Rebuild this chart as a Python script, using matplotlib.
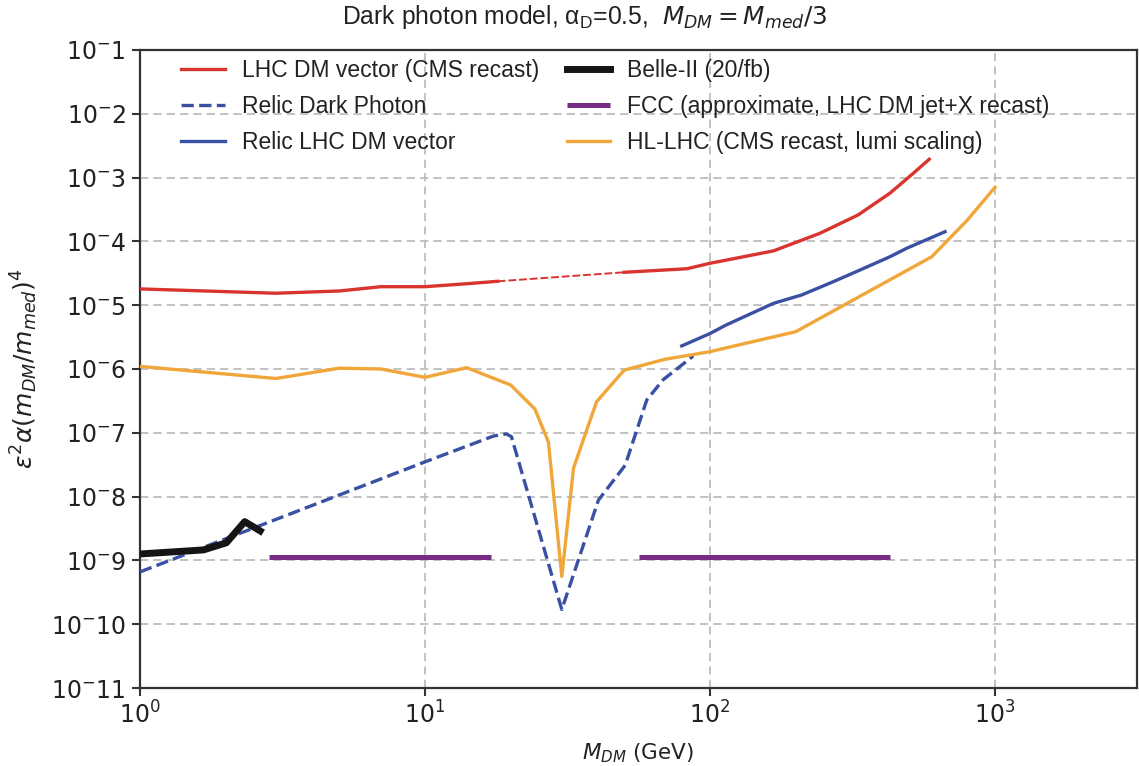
import matplotlib
matplotlib.use("Agg")
import matplotlib.pyplot as plt
from matplotlib.ticker import FixedLocator, FixedFormatter, NullLocator

# ---------------- data ----------------
red_low_x = [1, 3, 5, 7, 10, 14, 18]
red_low_y = [1.8e-5, 1.54e-5, 1.67e-5, 1.95e-5, 1.95e-5, 2.17e-5, 2.37e-5]
red_mid_x = [18, 50]
red_mid_y = [2.37e-5, 3.28e-5]
red_high_x = [50, 83, 100, 167, 243, 331, 428, 517, 588]
red_high_y = [3.28e-5, 3.73e-5, 4.54e-5, 7.1e-5, 1.34e-4, 2.6e-4, 5.7e-4, 1.17e-3, 1.94e-3]

relic_dp_x = [1, 10, 17.4, 19.3, 20.1, 30.2, 40.6, 50.4, 60, 68.5, 87.4]
relic_dp_y = [6.6e-10, 3.5e-8, 8.9e-8, 9.6e-8, 8.7e-8, 1.7e-10, 8.8e-9, 3.1e-8, 3.27e-7, 6.8e-7, 1.6e-6]

relic_lhc_x = [79.6, 100, 114, 167, 210, 271, 336, 428, 490, 668]
relic_lhc_y = [2.3e-6, 3.6e-6, 4.9e-6, 1.07e-5, 1.45e-5, 2.34e-5, 3.56e-5, 5.75e-5, 7.8e-5, 1.42e-4]

belle_x = [1, 1.67, 2.01, 2.33, 2.64]
belle_y = [1.26e-9, 1.46e-9, 1.89e-9, 4.05e-9, 2.9e-9]

fcc1_x = [2.84, 17.1]
fcc2_x = [56.5, 428]
fcc_y = 1.15e-9

hl_x = [1, 3, 5, 7, 10, 14, 20, 24.3, 27.1, 30.2, 33.2, 40, 50, 69.5, 100, 200, 600, 800, 1000]
hl_y = [1.1e-6, 7.1e-7, 1.03e-6, 1.0e-6, 7.4e-7, 1.05e-6, 5.6e-7, 2.36e-7, 7.2e-8, 5.6e-10,
        2.8e-8, 3.07e-7, 9.6e-7, 1.42e-6, 1.87e-6, 3.85e-6, 5.75e-5, 2.16e-4, 7.05e-4]

ytick_vals = [10.0**(-k) for k in range(1, 12)]
ytick_labels = [r"10$^{-}$%d" % k for k in range(1, 12)]
xtick_vals = [1, 10, 100, 1000]
xtick_labels = [r"$10^{0}$", r"$10^{1}$", r"$10^{2}$", r"$10^{3}$"]

# ---------------- style ----------------
RED = "#d9342e"
BLUE = "#3a50a2"
ORANGE = "#f0a638"
PURPLE = "#772c86"
BLACK = "#151515"

fig = plt.figure(figsize=(11.39, 7.66), dpi=100)
ax = fig.add_axes([140/1139, 1-688/766, (1137-140)/1139, (688-50)/766])

ax.set_xscale("log")
ax.set_yscale("log")
ax.set_xlim(1, 3150)
ax.set_ylim(1e-11, 1e-1)

l_red, = ax.plot(red_low_x, red_low_y, color=RED, lw=2.4, label="LHC DM vector (CMS recast)", zorder=3)
ax.plot(red_mid_x, red_mid_y, color=RED, lw=1.4, ls=(0, (4, 1.5)), zorder=3)
ax.plot(red_high_x, red_high_y, color=RED, lw=2.4, zorder=3)
l_dp, = ax.plot(relic_dp_x, relic_dp_y, color=BLUE, lw=2.4, ls="--", label="Relic Dark Photon", zorder=3)
l_rl, = ax.plot(relic_lhc_x, relic_lhc_y, color=BLUE, lw=2.4, label="Relic LHC DM vector", zorder=3)
l_b, = ax.plot(belle_x, belle_y, color=BLACK, lw=5, label="Belle-II (20/fb)", zorder=4)
l_f, = ax.plot(fcc1_x, [fcc_y, fcc_y], color=PURPLE, lw=3.6, solid_capstyle="butt",
               label="FCC (approximate, LHC DM jet+X recast)", zorder=3)
ax.plot(fcc2_x, [fcc_y, fcc_y], color=PURPLE, lw=3.6, solid_capstyle="butt", zorder=3)
l_hl, = ax.plot(hl_x, hl_y, color=ORANGE, lw=2.4, label="HL-LHC (CMS recast, lumi scaling)", zorder=3)

ax.xaxis.set_major_locator(FixedLocator(xtick_vals))
ax.xaxis.set_major_formatter(FixedFormatter(xtick_labels))
ax.xaxis.set_minor_locator(NullLocator())
ax.yaxis.set_major_locator(FixedLocator(ytick_vals))
ax.yaxis.set_major_formatter(FixedFormatter(ytick_labels))
ax.yaxis.set_minor_locator(NullLocator())

ax.grid(True, which="major", color="#b8b8b8", ls=(0, (5, 3)), lw=1.2, zorder=0)
for s in ax.spines.values():
    s.set_color("#333333")
    s.set_linewidth(1.6)
ax.tick_params(axis="both", which="major", direction="out", length=6, width=1.5,
               color="#333333", labelsize=17, labelcolor="#222222", pad=4)
for t in ax.get_xticklabels() + ax.get_yticklabels():
    t.set_fontfamily("DejaVu Sans")

ax.set_xlabel(r"$M_{DM}$ (GeV)", fontsize=15.5, family="DejaVu Sans", color="#222222", labelpad=9)
ax.set_ylabel(r"$\epsilon^2\alpha(m_{DM}/m_{med})^4$", fontsize=18, family="DejaVu Sans",
              color="#222222", labelpad=8)

fig.text(585/1139, 1-17/766,
         r"Dark photon model, $\mathregular{\alpha}$$_{\mathregular{D}}$=0.5,  $M_{DM} = M_{med}/3$",
         ha="center", va="center", fontsize=17.8, family="Liberation Sans", color="#222222")

leg = ax.legend(handles=[l_red, l_dp, l_rl, l_b, l_f, l_hl], ncol=2, loc="upper left",
                bbox_to_anchor=(0.032, 1.0), frameon=False,
                prop={"family": "Liberation Sans", "size": 16.5},
                handlelength=1.9, handletextpad=0.75, columnspacing=1.2,
                labelspacing=0.56, borderaxespad=0.2, borderpad=0.2)
for t in leg.get_texts():
    t.set_color("#222222")

fig.savefig("out.png", dpi=100)
